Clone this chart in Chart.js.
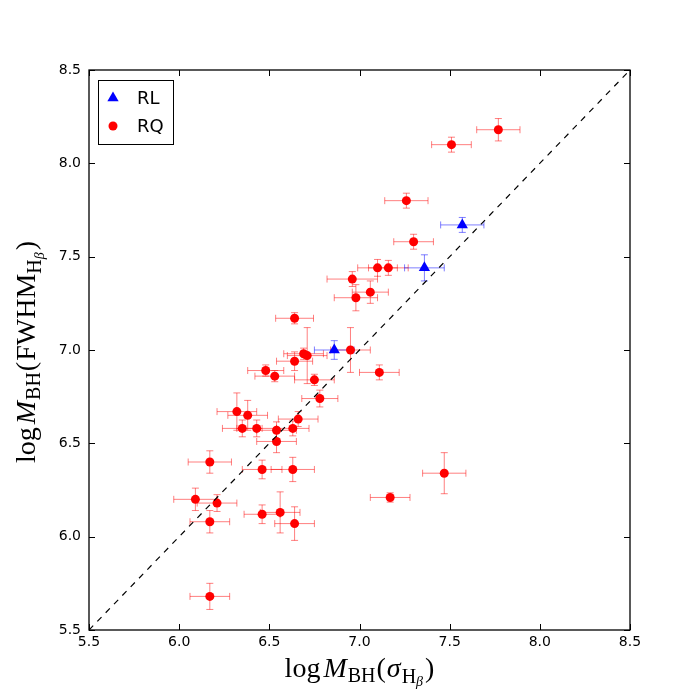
<!DOCTYPE html>
<html>
<head>
<meta charset="utf-8">
<script src="https://cdn.jsdelivr.net/npm/chart.js@4.4.0/dist/chart.umd.min.js"></script>
<style>
  html, body { margin: 0; padding: 0; background: #fff; }
</style>
</head>
<body>
<canvas id="myChart" width="700" height="700"></canvas>
<script>
// RL sources (blue triangles)
const rlX = [7.57, 7.36, 6.86];
const rlY = [7.67, 7.44, 7.00];
const rlXErr = [0.12, 0.11, 0.11];
const rlYErr = [0.04, 0.07, 0.05];

// RQ sources (red circles)
const rqX = [7.77, 7.51, 7.26, 7.30, 7.10, 7.16, 6.96, 7.06, 6.98, 6.64,
             6.95, 6.69, 6.71, 6.64, 7.11, 6.48, 6.53, 6.75, 6.78, 6.32,
             6.38, 6.35, 6.43, 6.54, 6.63, 6.66, 6.54, 6.17, 6.46, 6.63,
             6.09, 6.21, 6.17, 6.46, 6.56, 6.64, 7.47, 7.17, 6.17];
const rqY = [8.18, 8.10, 7.80, 7.58, 7.44, 7.44, 7.38, 7.31, 7.28, 7.17,
             7.00, 6.98, 6.97, 6.94, 6.88, 6.89, 6.86, 6.84, 6.74, 6.67,
             6.65, 6.58, 6.58, 6.57, 6.58, 6.63, 6.51, 6.40, 6.36, 6.36,
             6.20, 6.18, 6.08, 6.12, 6.13, 6.07, 6.34, 6.21, 5.68];
const rqXErr = [0.12, 0.11, 0.12, 0.11, 0.11, 0.11, 0.14, 0.10, 0.12, 0.105,
                0.11, 0.11, 0.11, 0.10, 0.11, 0.10, 0.11, 0.11, 0.10, 0.11,
                0.11, 0.11, 0.11, 0.11, 0.09, 0.11, 0.11, 0.12, 0.11, 0.12,
                0.12, 0.11, 0.11, 0.10, 0.11, 0.11, 0.12, 0.11, 0.11];
const rqYErr = [0.06, 0.04, 0.04, 0.04, 0.045, 0.04, 0.04, 0.06, 0.07, 0.03,
                0.12, 0.03, 0.15, 0.05, 0.04, 0.03, 0.03, 0.03, 0.045, 0.10,
                0.08, 0.045, 0.045, 0.045, 0.04, 0.04, 0.06, 0.06, 0.05, 0.065,
                0.06, 0.045, 0.06, 0.05, 0.11, 0.09, 0.11, 0.025, 0.07];

// one-to-one line and axis ticks
const diagonal = [5.5, 8.5];
const tickValues = [5.5, 6.0, 6.5, 7.0, 7.5, 8.0, 8.5];

const serif = '"Liberation Serif", "DejaVu Serif", serif';

function toPoints(xs, ys) {
  return xs.map((x, i) => ({ x: x, y: ys[i] }));
}

// draws text pieces one after another (for sub-scripts)
function drawRuns(ctx, runs, cx, baseY) {
  let total = 0;
  runs.forEach(r => {
    ctx.font = r.font;
    r.w = ctx.measureText(r.text).width + (r.gap || 0);
    total += r.w;
  });
  let x = cx - total / 2;
  runs.forEach(r => {
    ctx.font = r.font;
    ctx.fillText(r.text, x, baseY + (r.dy || 0));
    x += r.w;
  });
}

const errorBars = {
  id: 'errorBars',
  beforeDatasetsDraw(chart) {
    const ctx = chart.ctx;
    const xs = chart.scales.x, ys = chart.scales.y;
    const area = chart.chartArea;
    ctx.save();
    ctx.beginPath();
    ctx.rect(area.left, area.top, area.right - area.left, area.bottom - area.top);
    ctx.clip();
    chart.data.datasets.forEach(ds => {
      if (!ds.xErr) return;
      ctx.strokeStyle = ds.errColor;
      ctx.lineWidth = 1;
      ds.data.forEach((p, i) => {
        const px = xs.getPixelForValue(p.x), py = ys.getPixelForValue(p.y);
        const x0 = xs.getPixelForValue(p.x - ds.xErr[i]), x1 = xs.getPixelForValue(p.x + ds.xErr[i]);
        const y0 = ys.getPixelForValue(p.y - ds.yErr[i]), y1 = ys.getPixelForValue(p.y + ds.yErr[i]);
        const c = 3.5;
        ctx.beginPath();
        ctx.moveTo(x0, py); ctx.lineTo(x1, py);
        ctx.moveTo(px, y0); ctx.lineTo(px, y1);
        ctx.moveTo(x0, py - c); ctx.lineTo(x0, py + c);
        ctx.moveTo(x1, py - c); ctx.lineTo(x1, py + c);
        ctx.moveTo(px - c, y0); ctx.lineTo(px + c, y0);
        ctx.moveTo(px - c, y1); ctx.lineTo(px + c, y1);
        ctx.stroke();
      });
    });
    ctx.restore();
  }
};

const frameAndLabels = {
  id: 'frameAndLabels',
  afterDraw(chart) {
    const ctx = chart.ctx;
    const xs = chart.scales.x, ys = chart.scales.y;
    const a = chart.chartArea;
    ctx.save();
    ctx.strokeStyle = '#000';
    ctx.lineWidth = 1;
    // inward ticks on all four sides
    ctx.beginPath();
    tickValues.forEach(v => {
      const px = Math.round(xs.getPixelForValue(v)) + 0.5;
      ctx.moveTo(px, a.bottom); ctx.lineTo(px, a.bottom - 6);
      ctx.moveTo(px, a.top); ctx.lineTo(px, a.top + 6);
      const py = Math.round(ys.getPixelForValue(v)) + 0.5;
      ctx.moveTo(a.left, py); ctx.lineTo(a.left + 6, py);
      ctx.moveTo(a.right, py); ctx.lineTo(a.right - 6, py);
    });
    ctx.stroke();
    ctx.lineWidth = 1.3;
    ctx.strokeRect(a.left, a.top, a.right - a.left, a.bottom - a.top);

    // legend
    ctx.lineWidth = 1;
    ctx.fillStyle = '#fff';
    ctx.fillRect(98.5, 80.5, 75, 64);
    ctx.strokeRect(98.5, 80.5, 75, 64);
    ctx.fillStyle = '#0000ff';
    const r = 6.5;
    ctx.beginPath();
    ctx.moveTo(113, 98 - r);
    ctx.lineTo(113 + r * 0.866, 98 + r / 2);
    ctx.lineTo(113 - r * 0.866, 98 + r / 2);
    ctx.closePath();
    ctx.fill();
    ctx.fillStyle = '#ff0000';
    ctx.beginPath();
    ctx.arc(113, 126, 4.5, 0, Math.PI * 2);
    ctx.fill();
    ctx.fillStyle = '#000';
    ctx.font = '18px "DejaVu Sans"';
    ctx.textAlign = 'left';
    ctx.textBaseline = 'alphabetic';
    ctx.fillText('RL', 137, 104);
    ctx.fillText('RQ', 137, 132);

    // axis titles
    const big = '28px ' + serif, bigIt = 'italic 28px ' + serif;
    const sub = '20px ' + serif, subIt = 'italic 14px ' + serif;
    const cx = (a.left + a.right) / 2;
    drawRuns(ctx, [
      { text: 'log', font: big, gap: 3 },
      { text: 'M', font: bigIt, gap: 1 },
      { text: 'BH', font: sub, dy: 5, gap: 1 },
      { text: '(', font: big, gap: 1 },
      { text: 'σ', font: bigIt, gap: 1 },
      { text: 'H', font: sub, dy: 6 },
      { text: 'β', font: subIt, dy: 9, gap: 2 },
      { text: ')', font: big }
    ], cx, 677);

    ctx.translate(35, (a.top + a.bottom) / 2 + 2);
    ctx.rotate(-Math.PI / 2);
    drawRuns(ctx, [
      { text: 'log', font: big, gap: 3 },
      { text: 'M', font: bigIt, gap: 1 },
      { text: 'BH', font: sub, dy: 5, gap: 1 },
      { text: '(', font: big, gap: 1 },
      { text: 'FWHM', font: big },
      { text: 'H', font: sub, dy: 6 },
      { text: 'β', font: subIt, dy: 9, gap: 2 },
      { text: ')', font: big }
    ], 0, 0);
    ctx.restore();
  }
};

const tickFont = { family: 'DejaVu Sans', size: 14 };

new Chart(document.getElementById('myChart'), {
  type: 'scatter',
  data: {
    datasets: [
      {
        label: 'one-to-one',
        type: 'line',
        data: toPoints(diagonal, diagonal),
        borderColor: '#000',
        borderWidth: 1.2,
        borderDash: [6, 6],
        pointRadius: 0,
        fill: false
      },
      {
        label: 'RQ',
        data: toPoints(rqX, rqY),
        xErr: rqXErr,
        yErr: rqYErr,
        errColor: 'rgba(255, 0, 0, 0.5)',
        pointStyle: 'circle',
        pointRadius: 4.5,
        pointBorderWidth: 0,
        backgroundColor: '#ff0000',
        borderColor: '#ff0000'
      },
      {
        label: 'RL',
        data: toPoints(rlX, rlY),
        xErr: rlXErr,
        yErr: rlYErr,
        errColor: 'rgba(0, 0, 255, 0.5)',
        pointStyle: 'triangle',
        pointRadius: 6.5,
        pointBorderWidth: 0,
        backgroundColor: '#0000ff',
        borderColor: '#0000ff'
      }
    ]
  },
  options: {
    responsive: false,
    animation: false,
    layout: { padding: { left: 0, right: 70, top: 70, bottom: 0 } },
    plugins: { legend: { display: false }, tooltip: { enabled: false } },
    scales: {
      x: {
        type: 'linear', min: 5.5, max: 8.5,
        afterBuildTicks: s => { s.ticks = tickValues.map(v => ({ value: v })); },
        afterFit: s => { s.height = 70; },
        grid: { display: false, drawTicks: false },
        border: { display: false },
        ticks: { color: '#000', font: tickFont, padding: 4, maxRotation: 0, autoSkip: false,
                 callback: v => v.toFixed(1) }
      },
      y: {
        type: 'linear', min: 5.5, max: 8.5,
        afterBuildTicks: s => { s.ticks = tickValues.map(v => ({ value: v })); },
        afterFit: s => { s.width = 89; },
        grid: { display: false, drawTicks: false },
        border: { display: false },
        ticks: { color: '#000', font: tickFont, padding: 8, autoSkip: false,
                 callback: v => v.toFixed(1) }
      }
    }
  },
  plugins: [errorBars, frameAndLabels]
});
</script>
</body>
</html>
